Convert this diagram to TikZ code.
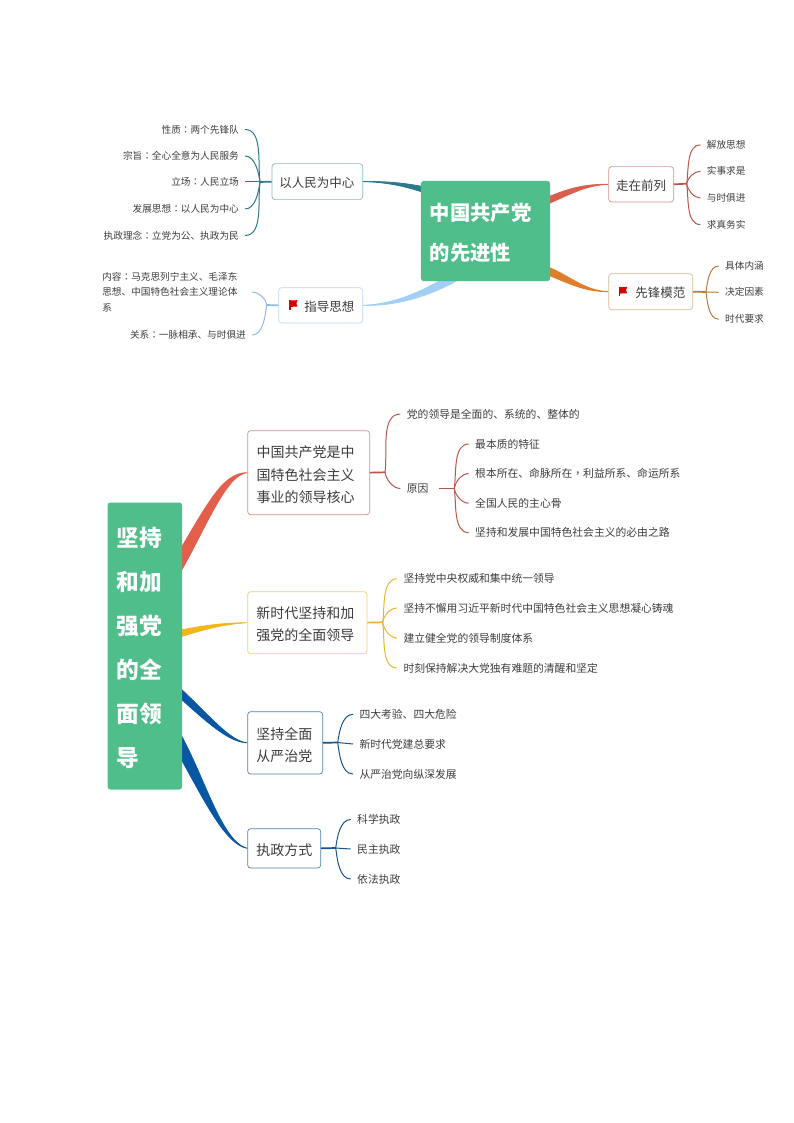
\documentclass[tikz,border=0pt]{standalone}
\usepackage{fontspec}
\usetikzlibrary{calc,backgrounds}
\setmainfont{Noto Sans CJK SC}
\newfontfamily\tcfont{Noto Sans CJK TC}
\newcommand{\cc}{{\tcfont ：}}
\newcommand{\cm}{{\tcfont ，}}
\newcommand{\lift}[1]{\rule{0pt}{#1}}
\definecolor{txt}{HTML}{3C3C3C}
\definecolor{rootg}{HTML}{50BE8A}
\definecolor{cteal}{HTML}{2A7A8C}
\definecolor{csky}{HTML}{A2CFF6}
\definecolor{csky2}{HTML}{8DBCE4}
\definecolor{cred}{HTML}{D9604F}
\definecolor{cred2}{HTML}{B9564A}
\definecolor{corg}{HTML}{DF7D2C}
\definecolor{corg2}{HTML}{B97A38}
\definecolor{cred3}{HTML}{E35F4C}
\definecolor{cyel}{HTML}{F2B61C}
\definecolor{cyel2}{HTML}{E9B42E}
\definecolor{cblue}{HTML}{0757A4}
\definecolor{cblue2}{HTML}{14558F}
\tikzset{
  rootbox/.style={fill=rootg,rounded corners=3pt,text=white,inner xsep=9pt,inner ysep=0pt,align=left,font=\bfseries},
  topicbox/.style={draw=#1,fill=white,rounded corners=3pt,line width=0.7pt,text=txt,inner sep=0pt,align=left},
  leafL/.style={anchor=east,text=txt,inner xsep=6pt,inner ysep=0pt,font=\fontsize{9.65}{16}\selectfont},
  leafR/.style={anchor=west,text=txt,inner xsep=6.3pt,inner ysep=0pt,font=\fontsize{9.65}{16}\selectfont},
  leafB/.style={anchor=west,text=txt,inner xsep=6.3pt,inner ysep=0pt,font=\fontsize{10.8}{16}\selectfont},
  stub/.style={line width=1.7pt,#1},
  twig/.style={line width=1pt,#1},
  taper/.style={fill=#1,draw=#1,line width=0.8pt,line join=round},
  flagmark/.style={fill=red!85!black}
}
\newcommand{\upR}[3]{\draw[twig=#1] (#2) to[out=82,in=180,looseness=0.85] (#3);}
\newcommand{\dnR}[3]{\draw[twig=#1] (#2) to[out=-82,in=180,looseness=0.85] (#3);}
\newcommand{\upL}[3]{\draw[twig=#1] (#2) to[out=98,in=0,looseness=0.85] (#3);}
\newcommand{\dnL}[3]{\draw[twig=#1] (#2) to[out=-98,in=0,looseness=0.85] (#3);}
\newcommand{\flagat}[1]{\begin{scope}[shift={(#1)}]
  \fill[flagmark] (0,0) rectangle (1.5,9.5);
  \fill[flagmark] (1.2,0.4) .. controls (3.5,-0.8) and (5.5,1.6) .. (8.4,0.2) -- (7.4,3.4) -- (8.4,6.6) .. controls (5.5,7.8) and (3.5,5.6) .. (1.2,6.9) -- cycle;
\end{scope}}
\begin{document}
\begin{tikzpicture}[x=1pt,y=-1pt]
\useasboundingbox (0,0) rectangle (794,1123);
% roots
\node[rootbox,anchor=north west,text width=111.3pt,minimum height=100.3pt,font=\bfseries\fontsize{20.3}{39.3}\selectfont] (r1) at (420.7,180.7) {\lift{1.04em}中国共产党\\的先进性};
\node[rootbox,anchor=north west,text width=56.7pt,minimum height=287pt,font=\bfseries\fontsize{22.7}{44}\selectfont] (r2) at (107.3,502.3) {\lift{1.06em}坚持\\和加\\强党\\的全\\面领\\导};
% topics, upper map
\node[topicbox={cteal!55!white},anchor=north west,minimum width=90.6pt,minimum height=36pt,text width=76pt,font=\fontsize{12.5}{16}\selectfont] (zr) at (271.7,163.3) {\lift{1.1em}以人民为中心};
\node[topicbox={csky2!55!white},anchor=north west,minimum width=84pt,minimum height=35.4pt,text width=67.4pt,align=right,font=\fontsize{12.5}{16}\selectfont] (zd) at (278.3,287.3) {\lift{1.1em}指导思想};
\node[topicbox={cred2!65!white},anchor=north west,minimum width=65pt,minimum height=35.4pt,align=center,font=\fontsize{12.5}{16}\selectfont] (zz) at (608.3,166.3) {\lift{1.05em}走在前列};
\node[topicbox={corg2!55!white},anchor=north west,minimum width=84pt,minimum height=36pt,text width=69.4pt,align=right,font=\fontsize{12.5}{16}\selectfont] (xf) at (608.3,273.3) {\lift{1.1em}先锋模范};
\flagat{289,300}
\flagat{618.7,286.7}
% topics, lower map
\node[topicbox={cred2!65!white},anchor=north west,minimum width=122pt,minimum height=84pt,text width=104pt,font=\fontsize{14}{22.2}\selectfont] (ta) at (247.3,430.3) {\lift{1.15em}中国共产党是中\\国特色社会主义\\事业的领导核心};
\node[topicbox={cyel2!65!white},anchor=north west,minimum width=119.4pt,minimum height=62pt,text width=102pt,font=\fontsize{14}{22.3}\selectfont] (tb) at (247.3,591.3) {\lift{1.1em}新时代坚持和加\\强党的全面领导};
\node[topicbox={cblue2!75!white},anchor=north west,minimum width=75pt,minimum height=62.4pt,text width=57.6pt,font=\fontsize{14}{22.5}\selectfont] (tc) at (247.3,711.3) {\lift{1.15em}坚持全面\\从严治党};
\node[topicbox={cblue2!75!white},anchor=north west,minimum width=73pt,minimum height=39.4pt,text width=55.6pt,font=\fontsize{14}{22}\selectfont] (td) at (247.3,828.3) {\lift{1.15em}执政方式};
% leaves
\node[leafL] (l1) at (245,129.5) {性质\cc 两个先锋队};
\node[leafL] (l2) at (245,156) {宗旨\cc 全心全意为人民服务};
\node[leafL] (l3) at (245,182) {立场\cc 人民立场};
\node[leafL] (l4) at (245,209) {发展思想\cc 以人民为中心};
\node[leafL] (l5) at (245,235.5) {执政理念\cc 立党为公、执政为民};
\node[anchor=east,text=txt,inner xsep=6pt,inner ysep=0pt,text width=143.5pt,align=left,font=\fontsize{9.65}{15.5}\selectfont] (l6) at (252,292) {内容\cc 马克思列宁主义、毛泽东\\思想、中国特色社会主义理论体\\系};
\node[leafL] (l7) at (252,335) {关系\cc 一脉相承、与时俱进};
\node[leafR] (z1) at (700.4,144.8) {解放思想};
\node[leafR] (z2) at (700.4,171.3) {实事求是};
\node[leafR] (z3) at (700.4,198) {与时俱进};
\node[leafR] (z4) at (700.4,224.6) {求真务实};
\node[leafR] (x1) at (718.7,266) {具体内涵};
\node[leafR] (x2) at (718.7,292.3) {决定因素};
\node[leafR] (x3) at (718.7,319.2) {时代要求};
\node[leafB] (a1) at (400.4,414) {党的领导是全面的、系统的、整体的};
\node[leafB] (a2) at (400.4,488.5) {原因};
\node[leafB] (a3) at (468.7,444) {最本质的特征};
\node[leafB] (a4) at (468.7,473.5) {根本所在、命脉所在\cm 利益所系、命运所系};
\node[leafB] (a5) at (468.7,503.2) {全国人民的主心骨};
\node[leafB] (a6) at (468.7,532.7) {坚持和发展中国特色社会主义的必由之路};
\node[leafB] (b1) at (397,578.8) {坚持党中央权威和集中统一领导};
\node[leafB] (b2) at (397,608) {坚持不懈用习近平新时代中国特色社会主义思想凝心铸魂};
\node[leafB] (b3) at (397,638) {建立健全党的领导制度体系};
\node[leafB] (b4) at (397,668) {时刻保持解决大党独有难题的清醒和坚定};
\node[leafB] (c1) at (353,714.3) {四大考验、四大危险};
\node[leafB] (c2) at (353,744) {新时代党建总要求};
\node[leafB] (c3) at (353,774) {从严治党向纵深发展};
\node[leafB] (d1) at (350.7,819.5) {科学执政};
\node[leafB] (d2) at (350.7,849) {民主执政};
\node[leafB] (d3) at (350.7,879) {依法执政};
% junctions
\coordinate (jzr) at (260,182);
\coordinate (jzd) at (266.7,305);
\coordinate (jzz) at (686.7,183.7);
\coordinate (jxf) at (706,292);
\coordinate (jta) at (385,472.3);
\coordinate (jyy) at (454.3,488.5);
\coordinate (jtb) at (382.7,622.3);
\coordinate (jtc) at (337.7,742.5);
\coordinate (jtd) at (335.7,848);
% branch ends hidden under the roots
\coordinate (e1a) at (425,187); \coordinate (e1b) at (425,193);
\coordinate (e2a) at (470,262); \coordinate (e2b) at (470,273);
\coordinate (e3a) at (548,197); \coordinate (e3b) at (548,204);
\coordinate (e4a) at (548,267); \coordinate (e4b) at (548,275);
\coordinate (e5a) at (180,550); \coordinate (e5b) at (180,573);
\coordinate (e6a) at (180,630.3); \coordinate (e6b) at (180,637);
\coordinate (e7a) at (180,688); \coordinate (e7b) at (180,698);
\coordinate (e8a) at (180,733); \coordinate (e8b) at (180,757);
\begin{scope}[on background layer]
  \path[taper=cteal] (zr.east) .. controls (385,181) and (405,183) .. (e1a) -- (e1b) .. controls (405,186) and (385,182) .. (zr.east) -- cycle;
  \path[taper=csky] (zd.east) .. controls (395,304) and (425,292) .. (e2a) -- (e2b) .. controls (430,298) and (395,306) .. (zd.east) -- cycle;
  \path[taper=cred] (zz.west) .. controls (585,184) and (570,188) .. (e3a) -- (e3b) .. controls (572,193) and (588,185) .. (zz.west) -- cycle;
  \path[taper=corg] (xf.west) .. controls (585,291) and (570,276) .. (e4a) -- (e4b) .. controls (568,283) and (585,292) .. (xf.west) -- cycle;
  \path[taper=cred3] (ta.west) .. controls (225,473) and (212,495) .. (e5a) -- (e5b) .. controls (205,530) and (226,474) .. (ta.west) -- cycle;
  \path[taper=cyel] (tb.west) .. controls (225,623) and (205,625) .. (e6a) -- (e6b) .. controls (205,629) and (225,624) .. (tb.west) -- cycle;
  \path[taper=cblue] (tc.west) .. controls (230,741) and (212,718) .. (e7a) -- (e7b) .. controls (212,727) and (230,742) .. (tc.west) -- cycle;
  \path[taper=cblue] (td.west) .. controls (222,842) and (205,778) .. (e8a) -- (e8b) .. controls (205,802) and (226,845) .. (td.west) -- cycle;
\end{scope}
% twigs
\draw[stub=cteal] (zr.west) -- (jzr);
\upL{cteal}{jzr}{l1.east}\upL{cteal}{jzr}{l2.east}\draw[twig=cteal] (jzr) -- (l3.east);\dnL{cteal}{jzr}{l4.east}\dnL{cteal}{jzr}{l5.east}
\draw[stub=csky2] (zd.west) -- (jzd);
\upL{csky2}{jzd}{l6.east}\dnL{csky2}{jzd}{l7.east}
\draw[stub=cred2] (zz.east) -- (jzz);
\upR{cred2}{jzz}{z1.west}\upR{cred2}{jzz}{z2.west}\dnR{cred2}{jzz}{z3.west}\dnR{cred2}{jzz}{z4.west}
\draw[stub=corg2] (xf.east) -- (jxf);
\upR{corg2}{jxf}{x1.west}\draw[twig=corg2] (jxf) -- (x2.west);\dnR{corg2}{jxf}{x3.west}
\draw[stub=cred2] (ta.east) -- (jta);
\upR{cred2}{jta}{a1.west}\dnR{cred2}{jta}{a2.west}
\draw[stub=cred2] ($(a2.east)+(4,0)$) -- (jyy);
\upR{cred2}{jyy}{a3.west}\upR{cred2}{jyy}{a4.west}\dnR{cred2}{jyy}{a5.west}\dnR{cred2}{jyy}{a6.west}
\draw[stub=cyel2] (tb.east) -- (jtb);
\upR{cyel2}{jtb}{b1.west}\upR{cyel2}{jtb}{b2.west}\dnR{cyel2}{jtb}{b3.west}\dnR{cyel2}{jtb}{b4.west}
\draw[stub=cblue2] (tc.east) -- (jtc);
\upR{cblue2}{jtc}{c1.west}\draw[twig=cblue2] (jtc) -- (c2.west);\dnR{cblue2}{jtc}{c3.west}
\draw[stub=cblue2] (td.east) -- (jtd);
\upR{cblue2}{jtd}{d1.west}\draw[twig=cblue2] (jtd) -- (d2.west);\dnR{cblue2}{jtd}{d3.west}
\end{tikzpicture}
\end{document}
